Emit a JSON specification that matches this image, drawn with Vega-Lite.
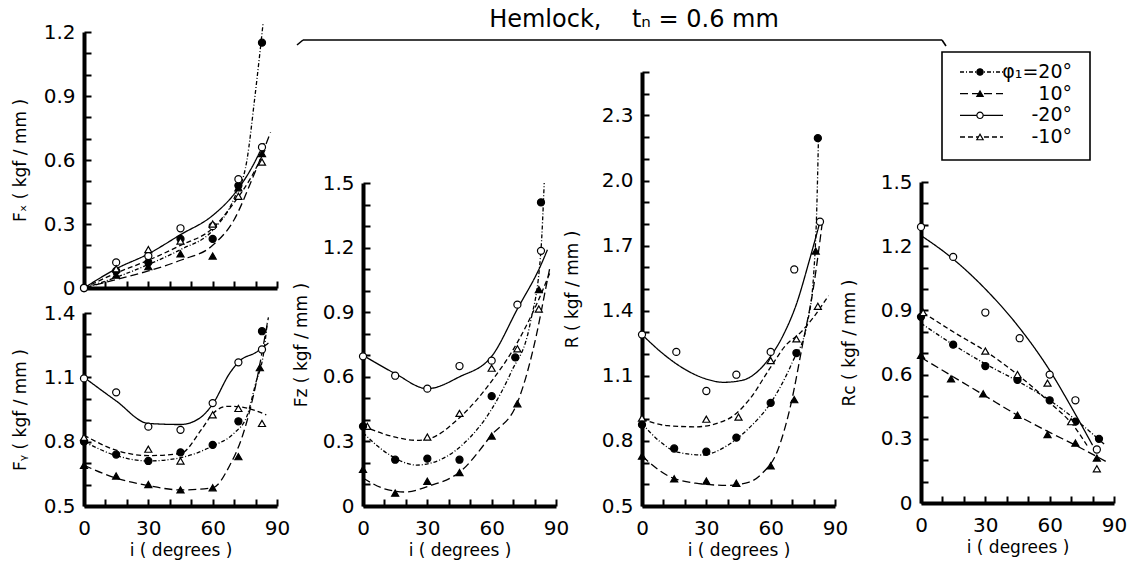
{
"$schema": "https://vega.github.io/schema/vega-lite/v6.json",
"autosize": {"type": "none"},
"padding": {"left": 84, "top": 32, "right": 19, "bottom": 64},
"width": 1030,
"height": 474,
"config": {
  "font": "DejaVu Sans",
  "view": {"stroke": null},
  "axis": {"domainWidth": 4, "domainColor": "black", "tickColor": "black", "tickWidth": 2, "tickSize": -7, "labelFontSize": 20, "labelColor": "black", "titleFontSize": 17, "titleFontWeight": "normal", "titleColor": "black", "grid": false, "labelPadding": 16, "titlePadding": 6, "labelFlush": false, "labelOverlap": false},
  "axisX": {"labelPadding": 19, "titlePadding": 4}
},
"datasets": {
  "points": [
    {"p":"Fx","s":"20","i":0,"v":0},{"p":"Fx","s":"20","i":15,"v":0.08},{"p":"Fx","s":"20","i":30,"v":0.12},{"p":"Fx","s":"20","i":45,"v":0.23},{"p":"Fx","s":"20","i":60,"v":0.23},{"p":"Fx","s":"20","i":72,"v":0.48},{"p":"Fx","s":"20","i":83,"v":1.15},
    {"p":"Fx","s":"10","i":15,"v":0.06},{"p":"Fx","s":"10","i":30,"v":0.10},{"p":"Fx","s":"10","i":45,"v":0.16},{"p":"Fx","s":"10","i":60,"v":0.15},{"p":"Fx","s":"10","i":72,"v":0.47},{"p":"Fx","s":"10","i":83,"v":0.63},
    {"p":"Fx","s":"-20","i":0,"v":0},{"p":"Fx","s":"-20","i":15,"v":0.12},{"p":"Fx","s":"-20","i":30,"v":0.15},{"p":"Fx","s":"-20","i":45,"v":0.28},{"p":"Fx","s":"-20","i":60,"v":0.29},{"p":"Fx","s":"-20","i":72,"v":0.51},{"p":"Fx","s":"-20","i":83,"v":0.66},
    {"p":"Fx","s":"-10","i":15,"v":0.09},{"p":"Fx","s":"-10","i":30,"v":0.18},{"p":"Fx","s":"-10","i":45,"v":0.22},{"p":"Fx","s":"-10","i":60,"v":0.30},{"p":"Fx","s":"-10","i":72,"v":0.43},{"p":"Fx","s":"-10","i":83,"v":0.59},
    {"p":"Fy","s":"-20","i":0,"v":1.095},{"p":"Fy","s":"-20","i":15,"v":1.03},{"p":"Fy","s":"-20","i":30,"v":0.87},{"p":"Fy","s":"-20","i":45,"v":0.855},{"p":"Fy","s":"-20","i":60,"v":0.98},{"p":"Fy","s":"-20","i":72,"v":1.17},{"p":"Fy","s":"-20","i":83,"v":1.23},
    {"p":"Fy","s":"20","i":0,"v":0.80},{"p":"Fy","s":"20","i":15,"v":0.74},{"p":"Fy","s":"20","i":30,"v":0.71},{"p":"Fy","s":"20","i":45,"v":0.75},{"p":"Fy","s":"20","i":60,"v":0.785},{"p":"Fy","s":"20","i":72,"v":0.895},{"p":"Fy","s":"20","i":83,"v":1.315},
    {"p":"Fy","s":"10","i":0,"v":0.69},{"p":"Fy","s":"10","i":15,"v":0.64},{"p":"Fy","s":"10","i":30,"v":0.60},{"p":"Fy","s":"10","i":45,"v":0.575},{"p":"Fy","s":"10","i":60,"v":0.585},{"p":"Fy","s":"10","i":72,"v":0.73},{"p":"Fy","s":"10","i":82,"v":1.145},
    {"p":"Fy","s":"-10","i":0,"v":0.82},{"p":"Fy","s":"-10","i":30,"v":0.765},{"p":"Fy","s":"-10","i":45,"v":0.71},{"p":"Fy","s":"-10","i":60,"v":0.925},{"p":"Fy","s":"-10","i":72,"v":0.955},{"p":"Fy","s":"-10","i":83,"v":0.885},
    {"p":"Fz","s":"-20","i":0,"v":0.695},{"p":"Fz","s":"-20","i":15,"v":0.605},{"p":"Fz","s":"-20","i":30,"v":0.545},{"p":"Fz","s":"-20","i":45,"v":0.65},{"p":"Fz","s":"-20","i":60,"v":0.675},{"p":"Fz","s":"-20","i":72,"v":0.935},{"p":"Fz","s":"-20","i":83,"v":1.185},
    {"p":"Fz","s":"-10","i":2,"v":0.37},{"p":"Fz","s":"-10","i":30,"v":0.32},{"p":"Fz","s":"-10","i":45,"v":0.43},{"p":"Fz","s":"-10","i":60,"v":0.64},{"p":"Fz","s":"-10","i":72,"v":0.73},{"p":"Fz","s":"-10","i":82,"v":0.915},
    {"p":"Fz","s":"20","i":0,"v":0.37},{"p":"Fz","s":"20","i":15,"v":0.215},{"p":"Fz","s":"20","i":30,"v":0.22},{"p":"Fz","s":"20","i":45,"v":0.215},{"p":"Fz","s":"20","i":60,"v":0.51},{"p":"Fz","s":"20","i":71,"v":0.69},{"p":"Fz","s":"20","i":83,"v":1.41},
    {"p":"Fz","s":"10","i":0,"v":0.17},{"p":"Fz","s":"10","i":15,"v":0.06},{"p":"Fz","s":"10","i":30,"v":0.115},{"p":"Fz","s":"10","i":45,"v":0.155},{"p":"Fz","s":"10","i":60,"v":0.325},{"p":"Fz","s":"10","i":72,"v":0.475},{"p":"Fz","s":"10","i":82,"v":1.005},
    {"p":"R","s":"-20","i":0,"v":1.29},{"p":"R","s":"-20","i":16,"v":1.21},{"p":"R","s":"-20","i":30,"v":1.03},{"p":"R","s":"-20","i":44,"v":1.105},{"p":"R","s":"-20","i":60,"v":1.21},{"p":"R","s":"-20","i":71,"v":1.59},{"p":"R","s":"-20","i":83,"v":1.81},
    {"p":"R","s":"-10","i":0,"v":0.905},{"p":"R","s":"-10","i":30,"v":0.9},{"p":"R","s":"-10","i":45,"v":0.91},{"p":"R","s":"-10","i":60,"v":1.17},{"p":"R","s":"-10","i":72,"v":1.27},{"p":"R","s":"-10","i":82,"v":1.42},
    {"p":"R","s":"20","i":0,"v":0.875},{"p":"R","s":"20","i":15,"v":0.765},{"p":"R","s":"20","i":30,"v":0.75},{"p":"R","s":"20","i":44,"v":0.815},{"p":"R","s":"20","i":60,"v":0.975},{"p":"R","s":"20","i":72,"v":1.205},{"p":"R","s":"20","i":82,"v":2.195},
    {"p":"R","s":"10","i":0,"v":0.73},{"p":"R","s":"10","i":15,"v":0.625},{"p":"R","s":"10","i":30,"v":0.615},{"p":"R","s":"10","i":44,"v":0.605},{"p":"R","s":"10","i":60,"v":0.685},{"p":"R","s":"10","i":71,"v":0.99},{"p":"R","s":"10","i":81,"v":1.675},
    {"p":"Rc","s":"-20","i":0,"v":1.29},{"p":"Rc","s":"-20","i":15,"v":1.15},{"p":"Rc","s":"-20","i":30,"v":0.89},{"p":"Rc","s":"-20","i":46,"v":0.77},{"p":"Rc","s":"-20","i":60,"v":0.60},{"p":"Rc","s":"-20","i":72,"v":0.48},{"p":"Rc","s":"-20","i":82,"v":0.25},
    {"p":"Rc","s":"20","i":0,"v":0.87},{"p":"Rc","s":"20","i":15,"v":0.74},{"p":"Rc","s":"20","i":30,"v":0.64},{"p":"Rc","s":"20","i":45,"v":0.575},{"p":"Rc","s":"20","i":60,"v":0.48},{"p":"Rc","s":"20","i":72,"v":0.38},{"p":"Rc","s":"20","i":83,"v":0.30},
    {"p":"Rc","s":"10","i":0,"v":0.69},{"p":"Rc","s":"10","i":14,"v":0.58},{"p":"Rc","s":"10","i":29,"v":0.51},{"p":"Rc","s":"10","i":45,"v":0.41},{"p":"Rc","s":"10","i":59,"v":0.32},{"p":"Rc","s":"10","i":72,"v":0.28},{"p":"Rc","s":"10","i":82,"v":0.21},
    {"p":"Rc","s":"-10","i":1,"v":0.89},{"p":"Rc","s":"-10","i":30,"v":0.71},{"p":"Rc","s":"-10","i":45,"v":0.60},{"p":"Rc","s":"-10","i":59,"v":0.56},{"p":"Rc","s":"-10","i":70,"v":0.38},{"p":"Rc","s":"-10","i":82,"v":0.16}
  ],
  "curves": [
    {"p":"Fx","s":"20","i":0,"v":0},{"p":"Fx","s":"20","i":15,"v":0.05},{"p":"Fx","s":"20","i":30,"v":0.11},{"p":"Fx","s":"20","i":45,"v":0.18},{"p":"Fx","s":"20","i":60,"v":0.27},{"p":"Fx","s":"20","i":70,"v":0.42},{"p":"Fx","s":"20","i":76,"v":0.60},{"p":"Fx","s":"20","i":79.5,"v":0.88},{"p":"Fx","s":"20","i":82,"v":1.1},{"p":"Fx","s":"20","i":83.5,"v":1.24},
    {"p":"Fx","s":"10","i":0,"v":0},{"p":"Fx","s":"10","i":15,"v":0.04},{"p":"Fx","s":"10","i":30,"v":0.08},{"p":"Fx","s":"10","i":45,"v":0.13},{"p":"Fx","s":"10","i":60,"v":0.20},{"p":"Fx","s":"10","i":70,"v":0.32},{"p":"Fx","s":"10","i":78,"v":0.50},{"p":"Fx","s":"10","i":87,"v":0.73},
    {"p":"Fx","s":"-20","i":0,"v":0},{"p":"Fx","s":"-20","i":15,"v":0.09},{"p":"Fx","s":"-20","i":30,"v":0.16},{"p":"Fx","s":"-20","i":45,"v":0.25},{"p":"Fx","s":"-20","i":60,"v":0.34},{"p":"Fx","s":"-20","i":70,"v":0.44},{"p":"Fx","s":"-20","i":78,"v":0.56},{"p":"Fx","s":"-20","i":84,"v":0.68},
    {"p":"Fx","s":"-10","i":0,"v":0},{"p":"Fx","s":"-10","i":15,"v":0.07},{"p":"Fx","s":"-10","i":30,"v":0.13},{"p":"Fx","s":"-10","i":45,"v":0.20},{"p":"Fx","s":"-10","i":60,"v":0.28},{"p":"Fx","s":"-10","i":70,"v":0.40},{"p":"Fx","s":"-10","i":78,"v":0.52},{"p":"Fx","s":"-10","i":85,"v":0.66},
    {"p":"Fy","s":"-20","i":0,"v":1.10},{"p":"Fy","s":"-20","i":15,"v":0.99},{"p":"Fy","s":"-20","i":30,"v":0.885},{"p":"Fy","s":"-20","i":45,"v":0.88},{"p":"Fy","s":"-20","i":54,"v":0.91},{"p":"Fy","s":"-20","i":60,"v":0.975},{"p":"Fy","s":"-20","i":68,"v":1.12},{"p":"Fy","s":"-20","i":73,"v":1.18},{"p":"Fy","s":"-20","i":80,"v":1.215},{"p":"Fy","s":"-20","i":86,"v":1.26},
    {"p":"Fy","s":"-10","i":0,"v":0.83},{"p":"Fy","s":"-10","i":15,"v":0.76},{"p":"Fy","s":"-10","i":30,"v":0.735},{"p":"Fy","s":"-10","i":45,"v":0.745},{"p":"Fy","s":"-10","i":55,"v":0.86},{"p":"Fy","s":"-10","i":60,"v":0.93},{"p":"Fy","s":"-10","i":67,"v":0.965},{"p":"Fy","s":"-10","i":73,"v":0.962},{"p":"Fy","s":"-10","i":85,"v":0.925},
    {"p":"Fy","s":"20","i":0,"v":0.80},{"p":"Fy","s":"20","i":15,"v":0.735},{"p":"Fy","s":"20","i":30,"v":0.71},{"p":"Fy","s":"20","i":45,"v":0.725},{"p":"Fy","s":"20","i":60,"v":0.78},{"p":"Fy","s":"20","i":70,"v":0.84},{"p":"Fy","s":"20","i":76,"v":0.92},{"p":"Fy","s":"20","i":80,"v":1.07},{"p":"Fy","s":"20","i":84,"v":1.23},{"p":"Fy","s":"20","i":85.5,"v":1.36},
    {"p":"Fy","s":"10","i":0,"v":0.69},{"p":"Fy","s":"10","i":15,"v":0.63},{"p":"Fy","s":"10","i":30,"v":0.595},{"p":"Fy","s":"10","i":45,"v":0.575},{"p":"Fy","s":"10","i":60,"v":0.585},{"p":"Fy","s":"10","i":68,"v":0.69},{"p":"Fy","s":"10","i":74,"v":0.83},{"p":"Fy","s":"10","i":80,"v":1.06},{"p":"Fy","s":"10","i":84,"v":1.27},{"p":"Fy","s":"10","i":86,"v":1.38},
    {"p":"Fz","s":"-20","i":0,"v":0.70},{"p":"Fz","s":"-20","i":15,"v":0.615},{"p":"Fz","s":"-20","i":30,"v":0.545},{"p":"Fz","s":"-20","i":45,"v":0.60},{"p":"Fz","s":"-20","i":60,"v":0.695},{"p":"Fz","s":"-20","i":72,"v":0.915},{"p":"Fz","s":"-20","i":83,"v":1.12},{"p":"Fz","s":"-20","i":86,"v":1.19},
    {"p":"Fz","s":"-10","i":0,"v":0.37},{"p":"Fz","s":"-10","i":15,"v":0.32},{"p":"Fz","s":"-10","i":25,"v":0.305},{"p":"Fz","s":"-10","i":30,"v":0.31},{"p":"Fz","s":"-10","i":45,"v":0.41},{"p":"Fz","s":"-10","i":60,"v":0.58},{"p":"Fz","s":"-10","i":72,"v":0.76},{"p":"Fz","s":"-10","i":82,"v":0.96},{"p":"Fz","s":"-10","i":87,"v":1.08},
    {"p":"Fz","s":"20","i":0,"v":0.34},{"p":"Fz","s":"20","i":12,"v":0.24},{"p":"Fz","s":"20","i":25,"v":0.19},{"p":"Fz","s":"20","i":39,"v":0.23},{"p":"Fz","s":"20","i":47,"v":0.29},{"p":"Fz","s":"20","i":60,"v":0.45},{"p":"Fz","s":"20","i":69,"v":0.62},{"p":"Fz","s":"20","i":78,"v":0.85},{"p":"Fz","s":"20","i":83,"v":1.19},{"p":"Fz","s":"20","i":84.5,"v":1.50},
    {"p":"Fz","s":"10","i":0,"v":0.13},{"p":"Fz","s":"10","i":10,"v":0.08},{"p":"Fz","s":"10","i":20,"v":0.065},{"p":"Fz","s":"10","i":30,"v":0.09},{"p":"Fz","s":"10","i":46,"v":0.165},{"p":"Fz","s":"10","i":60,"v":0.33},{"p":"Fz","s":"10","i":72,"v":0.48},{"p":"Fz","s":"10","i":81,"v":0.80},{"p":"Fz","s":"10","i":85,"v":1.0},{"p":"Fz","s":"10","i":87,"v":1.1},
    {"p":"R","s":"-20","i":0,"v":1.29},{"p":"R","s":"-20","i":10,"v":1.20},{"p":"R","s":"-20","i":20,"v":1.13},{"p":"R","s":"-20","i":30,"v":1.085},{"p":"R","s":"-20","i":38,"v":1.07},{"p":"R","s":"-20","i":47,"v":1.08},{"p":"R","s":"-20","i":55,"v":1.13},{"p":"R","s":"-20","i":60,"v":1.19},{"p":"R","s":"-20","i":66,"v":1.29},{"p":"R","s":"-20","i":72,"v":1.43},{"p":"R","s":"-20","i":78,"v":1.63},{"p":"R","s":"-20","i":83,"v":1.81},
    {"p":"R","s":"-10","i":0,"v":0.90},{"p":"R","s":"-10","i":12,"v":0.87},{"p":"R","s":"-10","i":25,"v":0.865},{"p":"R","s":"-10","i":40,"v":0.90},{"p":"R","s":"-10","i":50,"v":0.99},{"p":"R","s":"-10","i":60,"v":1.14},{"p":"R","s":"-10","i":67,"v":1.24},{"p":"R","s":"-10","i":74,"v":1.30},{"p":"R","s":"-10","i":80,"v":1.37},{"p":"R","s":"-10","i":87,"v":1.47},
    {"p":"R","s":"20","i":0,"v":0.88},{"p":"R","s":"20","i":8,"v":0.80},{"p":"R","s":"20","i":16,"v":0.75},{"p":"R","s":"20","i":28,"v":0.735},{"p":"R","s":"20","i":40,"v":0.78},{"p":"R","s":"20","i":50,"v":0.86},{"p":"R","s":"20","i":60,"v":0.975},{"p":"R","s":"20","i":70,"v":1.16},{"p":"R","s":"20","i":77,"v":1.34},{"p":"R","s":"20","i":80,"v":1.56},{"p":"R","s":"20","i":81.5,"v":1.87},{"p":"R","s":"20","i":82.3,"v":2.2},
    {"p":"R","s":"10","i":0,"v":0.73},{"p":"R","s":"10","i":12,"v":0.64},{"p":"R","s":"10","i":25,"v":0.605},{"p":"R","s":"10","i":40,"v":0.595},{"p":"R","s":"10","i":50,"v":0.61},{"p":"R","s":"10","i":56,"v":0.65},{"p":"R","s":"10","i":63,"v":0.75},{"p":"R","s":"10","i":69,"v":0.95},{"p":"R","s":"10","i":75,"v":1.25},{"p":"R","s":"10","i":80,"v":1.51},{"p":"R","s":"10","i":84,"v":1.8},
    {"p":"Rc","s":"-20","i":0,"v":1.25},{"p":"Rc","s":"-20","i":15,"v":1.14},{"p":"Rc","s":"-20","i":30,"v":1.0},{"p":"Rc","s":"-20","i":45,"v":0.83},{"p":"Rc","s":"-20","i":60,"v":0.62},{"p":"Rc","s":"-20","i":70,"v":0.45},{"p":"Rc","s":"-20","i":80,"v":0.27},
    {"p":"Rc","s":"20","i":0,"v":0.84},{"p":"Rc","s":"20","i":15,"v":0.74},{"p":"Rc","s":"20","i":30,"v":0.65},{"p":"Rc","s":"20","i":45,"v":0.57},{"p":"Rc","s":"20","i":60,"v":0.48},{"p":"Rc","s":"20","i":72,"v":0.39},{"p":"Rc","s":"20","i":86,"v":0.27},
    {"p":"Rc","s":"10","i":0,"v":0.68},{"p":"Rc","s":"10","i":15,"v":0.59},{"p":"Rc","s":"10","i":30,"v":0.50},{"p":"Rc","s":"10","i":45,"v":0.41},{"p":"Rc","s":"10","i":60,"v":0.33},{"p":"Rc","s":"10","i":72,"v":0.27},{"p":"Rc","s":"10","i":87,"v":0.19},
    {"p":"Rc","s":"-10","i":1,"v":0.89},{"p":"Rc","s":"-10","i":15,"v":0.80},{"p":"Rc","s":"-10","i":30,"v":0.71},{"p":"Rc","s":"-10","i":45,"v":0.60},{"p":"Rc","s":"-10","i":60,"v":0.47},{"p":"Rc","s":"-10","i":72,"v":0.35},{"p":"Rc","s":"-10","i":78,"v":0.26}
  ],
  "legend": [
    {"s":"20","row":1,"label":"φ₁=20°"},
    {"s":"10","row":2,"label":"10°"},
    {"s":"-20","row":3,"label":"-20°"},
    {"s":"-10","row":4,"label":"-10°"}
  ]
},
"resolve": {"scale": {"x": "independent", "y": "independent"}, "axis": {"x": "independent", "y": "independent"}},
"layer": [
  {"resolve": {"axis": {"y": "independent"}},
   "layer": [
    {"data": {"name": "curves"}, "transform": [{"filter": "datum.p == 'Fx'"}],
     "mark": {"type": "line", "interpolate": "monotone", "strokeWidth": 1.3, "color": "black"},
     "encoding": {
      "x": {"field": "i", "type": "quantitative", "scale": {"domain": [0, 90], "range": [0, 193], "nice": false, "zero": false}, "axis": {"orient": "bottom", "offset": -218, "values": [0,10,20,30,40,50,60,70,80,90], "labels": false, "title": null}},
      "y": {"field": "v", "type": "quantitative", "scale": {"domain": [0, 1.2], "range": [256, 0], "nice": false, "zero": false}, "axis": {"orient": "left", "values": [0,0.1,0.2,0.3,0.4,0.5,0.6,0.7,0.8,0.9,1.0,1.1,1.2], "labels": false, "title": null}},
      "strokeDash": {"field": "s", "type": "nominal", "scale": {"domain": ["20","10","-20","-10"], "range": [[4,2,1,2],[8,4],[1,0],[5,3]]}, "legend": null},
      "detail": {"field": "s"}}},
    {"data": {"name": "points"}, "transform": [{"filter": "datum.p == 'Fx'"}],
     "mark": {"type": "point", "filled": true, "size": 50, "stroke": "black", "strokeWidth": 1.2, "opacity": 1},
     "encoding": {
      "x": {"field": "i", "type": "quantitative"},
      "y": {"field": "v", "type": "quantitative", "axis": {"orient": "left", "values": [0,0.3,0.6,0.9,1.2], "ticks": false, "domain": false, "labelPadding": 9, "labelExpr": "datum.value == 0 ? '0' : format(datum.value, '.1f')", "title": "Fₓ  ( kgf / mm )", "titlePadding": 14}},
      "shape": {"field": "s", "type": "nominal", "scale": {"domain": ["20","10","-20","-10"], "range": ["circle","triangle-up","circle","triangle-up"]}, "legend": null},
      "fill": {"field": "s", "type": "nominal", "scale": {"domain": ["20","10","-20","-10"], "range": ["black","black","white","white"]}, "legend": null}}}
  ]},
  {"resolve": {"axis": {"y": "independent"}},
   "layer": [
    {"data": {"name": "curves"}, "transform": [{"filter": "datum.p == 'Fy'"}],
     "mark": {"type": "line", "interpolate": "monotone", "strokeWidth": 1.3, "color": "black"},
     "encoding": {
      "x": {"field": "i", "type": "quantitative", "scale": {"domain": [0, 90], "range": [0, 193], "nice": false, "zero": false}, "axis": {"orient": "bottom", "values": [0,10,20,30,40,50,60,70,80,90], "labelOverlap": false, "labelExpr": "datum.value % 30 == 0 ? datum.label : ''", "title": "i  ( degrees )"}},
      "y": {"field": "v", "type": "quantitative", "scale": {"domain": [0.5, 1.4], "range": [474, 281], "nice": false, "zero": false}, "axis": {"orient": "left", "values": [0.5,0.6,0.7,0.8,0.9,1.0,1.1,1.2,1.3,1.4], "labels": false, "title": null}},
      "strokeDash": {"field": "s", "type": "nominal", "scale": {"domain": ["20","10","-20","-10"], "range": [[4,2,1,2],[8,4],[1,0],[5,3]]}, "legend": null},
      "detail": {"field": "s"}}},
    {"data": {"name": "points"}, "transform": [{"filter": "datum.p == 'Fy'"}],
     "mark": {"type": "point", "filled": true, "size": 50, "stroke": "black", "strokeWidth": 1.2, "opacity": 1},
     "encoding": {
      "x": {"field": "i", "type": "quantitative"},
      "y": {"field": "v", "type": "quantitative", "axis": {"orient": "left", "values": [0.5,0.8,1.1,1.4], "ticks": false, "domain": false, "labelPadding": 9, "format": ".1f", "title": "Fᵧ  ( kgf / mm )", "titlePadding": 14}},
      "shape": {"field": "s", "type": "nominal", "scale": {"domain": ["20","10","-20","-10"], "range": ["circle","triangle-up","circle","triangle-up"]}, "legend": null},
      "fill": {"field": "s", "type": "nominal", "scale": {"domain": ["20","10","-20","-10"], "range": ["black","black","white","white"]}, "legend": null}}}
  ]},
  {"resolve": {"axis": {"y": "independent"}},
   "layer": [
    {"data": {"name": "curves"}, "transform": [{"filter": "datum.p == 'Fz'"}],
     "mark": {"type": "line", "interpolate": "monotone", "strokeWidth": 1.3, "color": "black"},
     "encoding": {
      "x": {"field": "i", "type": "quantitative", "scale": {"domain": [0, 90], "range": [279, 472], "nice": false, "zero": false}, "axis": {"orient": "bottom", "values": [0,10,20,30,40,50,60,70,80,90], "labelOverlap": false, "labelExpr": "datum.value % 30 == 0 ? datum.label : ''", "title": "i  ( degrees )"}},
      "y": {"field": "v", "type": "quantitative", "scale": {"domain": [0, 1.5], "range": [474, 151], "nice": false, "zero": false}, "axis": {"orient": "left", "offset": -279, "values": [0,0.1,0.2,0.3,0.4,0.5,0.6,0.7,0.8,0.9,1.0,1.1,1.2,1.3,1.4,1.5], "labels": false, "title": null}},
      "strokeDash": {"field": "s", "type": "nominal", "scale": {"domain": ["20","10","-20","-10"], "range": [[4,2,1,2],[8,4],[1,0],[5,3]]}, "legend": null},
      "detail": {"field": "s"}}},
    {"data": {"name": "points"}, "transform": [{"filter": "datum.p == 'Fz'"}],
     "mark": {"type": "point", "filled": true, "size": 50, "stroke": "black", "strokeWidth": 1.2, "opacity": 1},
     "encoding": {
      "x": {"field": "i", "type": "quantitative"},
      "y": {"field": "v", "type": "quantitative", "axis": {"orient": "left", "offset": -279, "values": [0,0.3,0.6,0.9,1.2,1.5], "ticks": false, "domain": false, "labelPadding": 9, "labelExpr": "datum.value == 0 ? '0' : format(datum.value, '.1f')", "title": "Fz  ( kgf / mm )", "titlePadding": 12}},
      "shape": {"field": "s", "type": "nominal", "scale": {"domain": ["20","10","-20","-10"], "range": ["circle","triangle-up","circle","triangle-up"]}, "legend": null},
      "fill": {"field": "s", "type": "nominal", "scale": {"domain": ["20","10","-20","-10"], "range": ["black","black","white","white"]}, "legend": null}}}
  ]},
  {"resolve": {"axis": {"y": "independent"}},
   "layer": [
    {"data": {"name": "curves"}, "transform": [{"filter": "datum.p == 'R'"}],
     "mark": {"type": "line", "interpolate": "monotone", "strokeWidth": 1.3, "color": "black"},
     "encoding": {
      "x": {"field": "i", "type": "quantitative", "scale": {"domain": [0, 90], "range": [558, 751], "nice": false, "zero": false}, "axis": {"orient": "bottom", "values": [0,10,20,30,40,50,60,70,80,90], "labelOverlap": false, "labelExpr": "datum.value % 30 == 0 ? datum.label : ''", "title": "i  ( degrees )"}},
      "y": {"field": "v", "type": "quantitative", "scale": {"domain": [0.5, 2.5], "range": [474, 40], "nice": false, "zero": false}, "axis": {"orient": "left", "offset": -558, "values": [0.5,0.6,0.7,0.8,0.9,1.0,1.1,1.2,1.3,1.4,1.5,1.6,1.7,1.8,1.9,2.0,2.1,2.2,2.3,2.4,2.5], "labels": false, "title": null}},
      "strokeDash": {"field": "s", "type": "nominal", "scale": {"domain": ["20","10","-20","-10"], "range": [[4,2,1,2],[8,4],[1,0],[5,3]]}, "legend": null},
      "detail": {"field": "s"}}},
    {"data": {"name": "points"}, "transform": [{"filter": "datum.p == 'R'"}],
     "mark": {"type": "point", "filled": true, "size": 50, "stroke": "black", "strokeWidth": 1.2, "opacity": 1},
     "encoding": {
      "x": {"field": "i", "type": "quantitative"},
      "y": {"field": "v", "type": "quantitative", "axis": {"orient": "left", "offset": -558, "values": [0.5,0.8,1.1,1.4,1.7,2.0,2.3], "ticks": false, "domain": false, "labelPadding": 9, "format": ".1f", "title": "R  ( kgf / mm )", "titlePadding": 20}},
      "shape": {"field": "s", "type": "nominal", "scale": {"domain": ["20","10","-20","-10"], "range": ["circle","triangle-up","circle","triangle-up"]}, "legend": null},
      "fill": {"field": "s", "type": "nominal", "scale": {"domain": ["20","10","-20","-10"], "range": ["black","black","white","white"]}, "legend": null}}}
  ]},
  {"resolve": {"axis": {"y": "independent"}},
   "layer": [
    {"data": {"name": "curves"}, "transform": [{"filter": "datum.p == 'Rc'"}],
     "mark": {"type": "line", "interpolate": "monotone", "strokeWidth": 1.3, "color": "black"},
     "encoding": {
      "x": {"field": "i", "type": "quantitative", "scale": {"domain": [0, 90], "range": [837, 1030], "nice": false, "zero": false}, "axis": {"orient": "bottom", "offset": -3, "values": [0,10,20,30,40,50,60,70,80,90], "labelOverlap": false, "labelExpr": "datum.value % 30 == 0 ? datum.label : ''", "title": "i  ( degrees )"}},
      "y": {"field": "v", "type": "quantitative", "scale": {"domain": [0, 1.5], "range": [471, 150], "nice": false, "zero": false}, "axis": {"orient": "left", "offset": -837, "values": [0,0.1,0.2,0.3,0.4,0.5,0.6,0.7,0.8,0.9,1.0,1.1,1.2,1.3,1.4,1.5], "labels": false, "title": null}},
      "strokeDash": {"field": "s", "type": "nominal", "scale": {"domain": ["20","10","-20","-10"], "range": [[4,2,1,2],[8,4],[1,0],[5,3]]}, "legend": null},
      "detail": {"field": "s"}}},
    {"data": {"name": "points"}, "transform": [{"filter": "datum.p == 'Rc'"}],
     "mark": {"type": "point", "filled": true, "size": 50, "stroke": "black", "strokeWidth": 1.2, "opacity": 1},
     "encoding": {
      "x": {"field": "i", "type": "quantitative"},
      "y": {"field": "v", "type": "quantitative", "axis": {"orient": "left", "offset": -837, "values": [0,0.3,0.6,0.9,1.2,1.5], "ticks": false, "domain": false, "labelPadding": 9, "labelExpr": "datum.value == 0 ? '0' : format(datum.value, '.1f')", "title": "Rc  ( kgf / mm )", "titlePadding": 22}},
      "shape": {"field": "s", "type": "nominal", "scale": {"domain": ["20","10","-20","-10"], "range": ["circle","triangle-up","circle","triangle-up"]}, "legend": null},
      "fill": {"field": "s", "type": "nominal", "scale": {"domain": ["20","10","-20","-10"], "range": ["black","black","white","white"]}, "legend": null}}}
  ]},
  {"layer": [
    {"data": {"values": [{"t": "Hemlock,\u00a0\u00a0\u00a0\u00a0tₙ = 0.6 mm"}]},
     "mark": {"type": "text", "fontSize": 24, "align": "center", "baseline": "middle", "color": "black"},
     "encoding": {
      "x": {"datum": 550, "type": "quantitative", "scale": {"domain": [0, 1030], "nice": false, "zero": false}, "axis": null},
      "y": {"datum": -12, "type": "quantitative", "scale": {"domain": [0, 474], "nice": false, "zero": false, "reverse": true}, "axis": null},
      "text": {"field": "t"}}},
    {"data": {"values": [{}]}, "mark": {"type": "rule", "strokeWidth": 1.6, "color": "black"},
     "encoding": {"x": {"datum": 219, "type": "quantitative"}, "x2": {"datum": 858}, "y": {"datum": 8, "type": "quantitative"}}},
    {"data": {"values": [{}]}, "mark": {"type": "rule", "strokeWidth": 1.6, "color": "black"},
     "encoding": {"x": {"datum": 213, "type": "quantitative"}, "x2": {"datum": 219}, "y": {"datum": 13, "type": "quantitative"}, "y2": {"datum": 8}}},
    {"data": {"values": [{}]}, "mark": {"type": "rule", "strokeWidth": 1.6, "color": "black"},
     "encoding": {"x": {"datum": 858, "type": "quantitative"}, "x2": {"datum": 862}, "y": {"datum": 8, "type": "quantitative"}, "y2": {"datum": 14}}}
  ]},
  {"layer": [
    {"data": {"values": [{}]}, "mark": {"type": "rect", "filled": false, "stroke": "black", "strokeWidth": 1.6},
     "encoding": {
      "x": {"datum": 858, "type": "quantitative", "scale": {"domain": [0, 1030], "nice": false, "zero": false}, "axis": null},
      "x2": {"datum": 1006},
      "y": {"datum": 0.077, "type": "quantitative", "scale": {"domain": [-0.846, 21.03], "nice": false, "zero": false, "reverse": true}, "axis": null},
      "y2": {"datum": 5.06}}},
    {"data": {"name": "legend"}, "mark": {"type": "rule", "strokeWidth": 1.3, "color": "black"},
     "encoding": {
      "x": {"datum": 876, "type": "quantitative"}, "x2": {"datum": 919},
      "y": {"field": "row", "type": "quantitative"},
      "strokeDash": {"field": "s", "type": "nominal", "scale": {"domain": ["20","10","-20","-10"], "range": [[4,2,1,2],[8,4],[1,0],[5,3]]}, "legend": null}}},
    {"data": {"name": "legend"}, "mark": {"type": "point", "filled": true, "size": 40, "stroke": "black", "strokeWidth": 1.2, "opacity": 1},
     "encoding": {
      "x": {"datum": 896, "type": "quantitative"},
      "y": {"field": "row", "type": "quantitative"},
      "shape": {"field": "s", "type": "nominal", "scale": {"domain": ["20","10","-20","-10"], "range": ["circle","triangle-up","circle","triangle-up"]}, "legend": null},
      "fill": {"field": "s", "type": "nominal", "scale": {"domain": ["20","10","-20","-10"], "range": ["black","black","white","white"]}, "legend": null}}},
    {"data": {"name": "legend"}, "mark": {"type": "text", "fontSize": 19, "align": "right", "baseline": "middle", "color": "black"},
     "encoding": {
      "x": {"datum": 988, "type": "quantitative"},
      "y": {"field": "row", "type": "quantitative"},
      "text": {"field": "label"}}}
  ]}
]
}
